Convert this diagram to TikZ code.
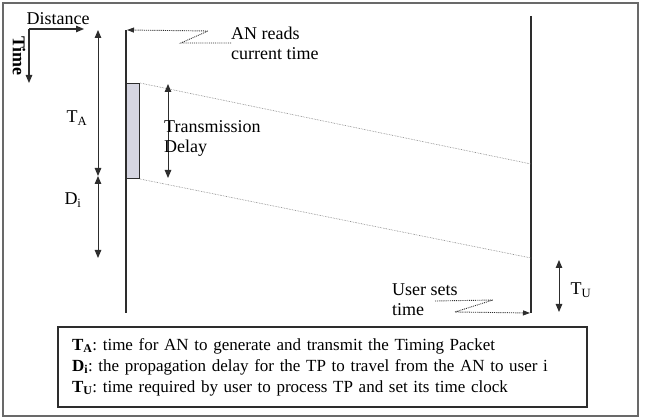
\documentclass[tikz,border=0pt]{standalone}
\usepackage{fontspec}
\setmainfont{Liberation Serif}
\usetikzlibrary{arrows.meta, positioning}
\definecolor{linegray}{RGB}{45, 45, 45}
\definecolor{framegray}{RGB}{105, 105, 105}
\definecolor{packetfill}{RGB}{214, 214, 226}
\definecolor{dotgray}{RGB}{120, 120, 120}
\tikzset{
  timeline/.style={draw=linegray, line width=1.8pt},
  span/.style={draw=linegray, line width=1pt, {Triangle[length=8pt,width=6.5pt]}-{Triangle[length=8pt,width=6.5pt]}},
  axisarrow/.style={draw=linegray, line width=1.2pt, -{Triangle[length=8pt,width=6.5pt]}},
  signal/.style={draw=dotgray, line width=0.6pt, densely dotted},
  callout/.style={draw=linegray, line width=0.9pt, densely dotted, -{Triangle[length=7pt,width=5pt]}},
  lbl/.style={font=\fontsize{18}{20}\selectfont, inner sep=0pt, align=left},
  packet/.style={rectangle, draw=linegray, line width=1pt, fill=packetfill, inner sep=0pt}
}

\begin{document}
\frenchspacing
\begin{tikzpicture}[x=1pt, y=-1pt]
    \useasboundingbox (0,0) rectangle (645,419);
    % outer frame
    \draw[draw=framegray, line width=1.8pt] (3,3) rectangle (638,416);

    % axes
    \coordinate (origin) at (29,29);
    \coordinate (distEnd) at (84,29);
    \coordinate (timeEnd) at (29,83);
    \draw[axisarrow] (origin) -- (distEnd);
    \draw[axisarrow] (origin) -- (timeEnd);
    \node[lbl] (distance) at (58,19) {Distance};
    \node[lbl, rotate=-90, font=\fontsize{18}{20}\selectfont\bfseries] (time) at (19,56) {Time};

    % time lines of AN and user
    \coordinate (anTop) at (126,30);
    \coordinate (anBot) at (126,313);
    \coordinate (userTop) at (531,16);
    \coordinate (userBot) at (531,313);
    \draw[timeline] (anTop) -- (anBot);
    \draw[timeline] (userTop) -- (userBot);

    % timing packet
    \node[packet, minimum width=13pt, minimum height=95pt, anchor=north west] (tp) at (126,83) {};
    \coordinate (rxHead) at (531,164);
    \coordinate (rxTail) at (531,258);
    \draw[signal] (tp.north east) -- (rxHead);
    \draw[signal] (tp.south east) -- (rxTail);

    % spans
    \coordinate (taTop) at (98,30);
    \coordinate (taBot) at (98,176);
    \coordinate (diBot) at (98,258);
    \draw[span] (taTop) -- (taBot);
    \draw[span] (taBot) -- (diBot);
    \node[lbl] (taLbl) at (77,118) {T\textsubscript{A}};
    \node[lbl] (diLbl) at (73,200) {D\textsubscript{i}};

    \coordinate (tdTop) at (168,84);
    \coordinate (tdBot) at (168,178);
    \draw[span] (tdTop) -- (tdBot);
    \node[lbl, anchor=west] (tdLbl) at (164,138) {Transmission\\Delay};

    \coordinate (tuTop) at (559,260);
    \coordinate (tuBot) at (559,312);
    \draw[span] (tuTop) -- (tuBot);
    \node[lbl] (tuLbl) at (581,290) {T\textsubscript{U}};

    % call-outs
    \node[lbl, anchor=west] (anReads) at (231,43) {AN reads\\current time};
    \coordinate (anZigA) at (181,43);
    \coordinate (anZigB) at (208,31);
    \draw[callout] (anReads.west) -- (anZigA) -- (anZigB) -- ([xshift=1pt]anTop);

    \node[lbl, anchor=west] (userSets) at (392,300) {User sets\\time};
    \coordinate (userZigS) at (435,301);
    \coordinate (userZigA) at (493,300);
    \coordinate (userZigB) at (455,312);
    \draw[callout] (userZigS) -- (userZigA) -- (userZigB) -- ([xshift=-1pt]userBot);

    % legend
    \node[draw=linegray, line width=1.4pt, minimum width=529pt, minimum height=80pt,
          text width=501pt, inner xsep=14pt, align=left,
          font=\fontsize{17}{21}\selectfont] (legend) at (322.5,367)
      {\textbf{T\textsubscript{A}}: time for AN to generate and transmit the Timing Packet\\
       \textbf{D\textsubscript{i}}: the propagation delay for the TP to travel from the AN to user i\\
       \textbf{T\textsubscript{U}}: time required by user to process TP and set its time clock};
\end{tikzpicture}
\end{document}
